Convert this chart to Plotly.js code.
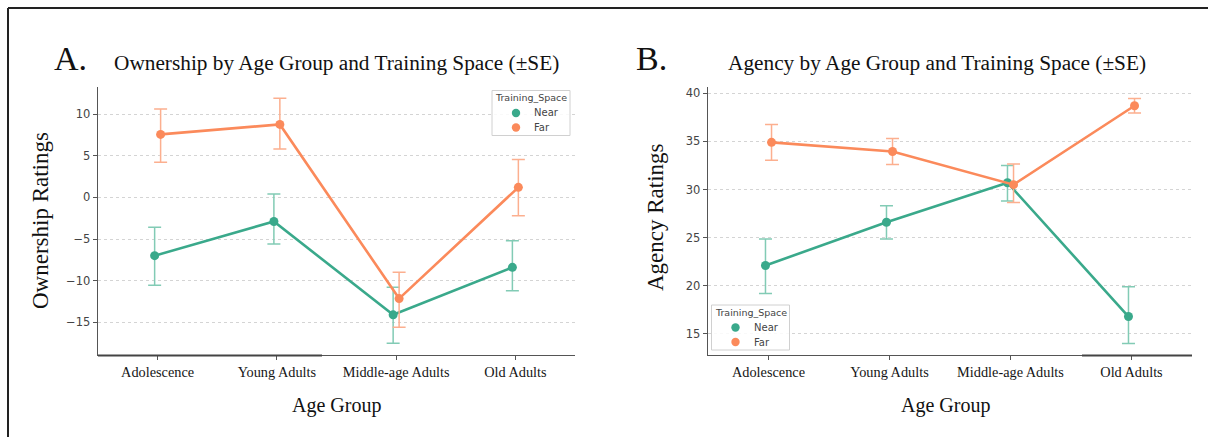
<!DOCTYPE html>
<html>
<head>
<meta charset="utf-8">
<script src="https://cdn.plot.ly/plotly-3.0.1.min.js"></script>
<style>
  html, body { margin: 0; padding: 0; background: #fff; }
  #chart { width: 1208px; height: 437px; }
</style>
</head>
<body>
<div id="chart"></div>
<script>
// Age groups on the x axis
const ageGroups = ['Adolescence', 'Young Adults', 'Middle-age Adults', 'Old Adults'];
const spaces = ['Near', 'Far'];

// Panel A: ownership ratings (mean, upper and lower error bounds)
const ownNearMean  = [-7.0, -2.9, -14.1, -8.4];
const ownNearUpper = [-3.6, 0.4, -10.8, -5.2];
const ownNearLower = [-10.55, -5.6, -17.5, -11.2];
const ownFarMean   = [7.55, 8.75, -12.15, 1.2];
const ownFarUpper  = [10.6, 11.9, -9.0, 4.55];
const ownFarLower  = [4.2, 5.8, -15.6, -2.2];

// Panel B: agency ratings (mean, upper and lower error bounds)
const agNearMean  = [22.1, 26.6, 30.7, 16.8];
const agNearUpper = [24.85, 28.3, 32.5, 19.9];
const agNearLower = [19.2, 24.85, 28.8, 14.0];
const agFarMean   = [34.9, 33.95, 30.5, 38.7];
const agFarUpper  = [36.75, 35.3, 32.65, 39.45];
const agFarLower  = [33.05, 32.6, 28.65, 37.95];

const ownTicks = [-15, -10, -5, 0, 5, 10];
const agTicks = [15, 20, 25, 30, 35, 40];

const NEAR = '#3aa98b', NEAR_ERR = '#82cbb5';
const FAR = '#fb8a5b', FAR_ERR = '#fcaf8f';
const SPACE_COLORS = [NEAR, FAR];
const SERIF = 'Liberation Serif, Times New Roman, serif';
const SANS = 'DejaVu Sans, sans-serif';
const W = 1208, H = 437;
const DODGE = 0.025;

const idx = ageGroups.map((_, i) => i);

function series(mean, upper, lower, offset, color, errColor, xa, ya) {
  return {
    type: 'scatter', mode: 'lines+markers',
    x: idx.map(i => i + offset), y: mean,
    xaxis: xa, yaxis: ya, showlegend: false, hoverinfo: 'skip',
    line: { color: color, width: 2.6 },
    marker: { color: color, size: 9 },
    error_y: {
      type: 'data', symmetric: false,
      array: upper.map((u, i) => u - mean[i]),
      arrayminus: mean.map((m, i) => m - lower[i]),
      color: errColor, thickness: 1.5, width: 6.5
    }
  };
}

const traces = [
  series(ownNearMean, ownNearUpper, ownNearLower, -DODGE, NEAR, NEAR_ERR, 'x', 'y'),
  series(ownFarMean, ownFarUpper, ownFarLower, DODGE, FAR, FAR_ERR, 'x', 'y'),
  series(agNearMean, agNearUpper, agNearLower, -DODGE, NEAR, NEAR_ERR, 'x2', 'y2'),
  series(agFarMean, agFarUpper, agFarLower, DODGE, FAR, FAR_ERR, 'x2', 'y2')
];

const px = v => v / W;
const py = v => 1 - v / H;

function xAxis(domain) {
  return {
    domain: domain, range: [-0.5, 3.5], fixedrange: true,
    tickmode: 'array', tickvals: idx, ticktext: ageGroups,
    ticks: 'outside', ticklen: 4, tickwidth: 1, tickcolor: '#555',
    showline: true, linecolor: '#555', linewidth: 1.3,
    showgrid: false, zeroline: false,
    tickfont: { family: SERIF, size: 14.3, color: '#151515' }
  };
}
function yAxis(range, ticks, anchor) {
  return {
    domain: [py(355), py(87)], range: range, anchor: anchor, fixedrange: true,
    tickmode: 'array', tickvals: ticks,
    ticks: 'outside', ticklen: 4, tickwidth: 1, tickcolor: '#555',
    showline: true, linecolor: '#555', linewidth: 1.3,
    showgrid: true, gridcolor: '#d4d4d4', griddash: 'dot', gridwidth: 1,
    zeroline: false,
    tickfont: { family: SANS, size: 11.5, color: '#444' }
  };
}

function text(t, x, y, size, opts) {
  return Object.assign({
    text: t, xref: 'paper', yref: 'paper', x: px(x), y: py(y),
    showarrow: false, xanchor: 'left', yanchor: 'middle',
    font: { family: SERIF, size: size, color: '#111' }
  }, opts || {});
}

// Compact legend box: frame, title, one dot and label per training space
function legendParts(left, top) {
  const shapes = [{
    type: 'rect', xref: 'paper', yref: 'paper',
    x0: px(left), x1: px(left + 78), y0: py(top), y1: py(top + 45),
    line: { color: '#d0d0d0', width: 1 }, fillcolor: 'rgba(255,255,255,0.85)', layer: 'above'
  }];
  const notes = [text('Training_Space', left + 39, top + 7.5, 9.5,
    { xanchor: 'center', font: { family: SANS, size: 9.5, color: '#444' } })];
  spaces.forEach((name, k) => {
    const cy = top + 22.5 + k * 14.5, cx = left + 24;
    shapes.push({
      type: 'circle', xref: 'paper', yref: 'paper',
      x0: px(cx - 4.2), x1: px(cx + 4.2), y0: py(cy - 4.2), y1: py(cy + 4.2),
      fillcolor: SPACE_COLORS[k], line: { width: 0 }, layer: 'above'
    });
    notes.push(text(name, left + 40, cy, 10,
      { font: { family: SANS, size: 10, color: '#444' } }));
  });
  return { shapes, notes };
}

const legA = legendParts(492, 90.5);
const legB = legendParts(711.5, 305);

const layout = {
  width: W, height: H,
  margin: { l: 0, r: 0, t: 0, b: 0 },
  paper_bgcolor: '#fff', plot_bgcolor: '#fff',
  showlegend: false,
  xaxis: xAxis([px(98), px(575)]),
  yaxis: yAxis([-18.92, 13.24], ownTicks, 'x'),
  xaxis2: xAxis([px(708), px(1192)]),
  yaxis2: yAxis([12.8, 40.65], agTicks, 'x2'),
  annotations: [
    text('A.', 52, 58, 34),
    text('Ownership by Age Group and Training Space (±SE)', 112, 63, 21.3),
    text('B.', 634, 58, 34),
    text('Agency by Age Group and Training Space (±SE)', 726, 63, 21.3),
    text('Ownership Ratings', 40, 221, 23, { xanchor: 'center', textangle: -90 }),
    text('Agency Ratings', 655, 217, 23, { xanchor: 'center', textangle: -90 }),
    text('Age Group', 336, 405, 20, { xanchor: 'center' }),
    text('Age Group', 946, 405, 20, { xanchor: 'center' })
  ].concat(legA.notes, legB.notes),
  shapes: [
    // page frame: top and left edges
    { type: 'line', xref: 'paper', yref: 'paper', x0: px(8), x1: 1, y0: py(8), y1: py(8),
      line: { color: '#222', width: 2 } },
    { type: 'line', xref: 'paper', yref: 'paper', x0: px(8), x1: px(8), y0: py(8), y1: 0,
      line: { color: '#222', width: 2 } },
    // heavier stretches of the bottom axis lines
    { type: 'line', xref: 'paper', yref: 'paper', x0: px(98), x1: px(322), y0: py(355.5), y1: py(355.5),
      line: { color: '#444', width: 2 } },
    { type: 'line', xref: 'paper', yref: 'paper', x0: px(1082), x1: px(1192), y0: py(355.5), y1: py(355.5),
      line: { color: '#444', width: 2 } }
  ].concat(legA.shapes, legB.shapes)
};

Plotly.newPlot('chart', traces, layout, { displayModeBar: false, staticPlot: true });
</script>
</body>
</html>
